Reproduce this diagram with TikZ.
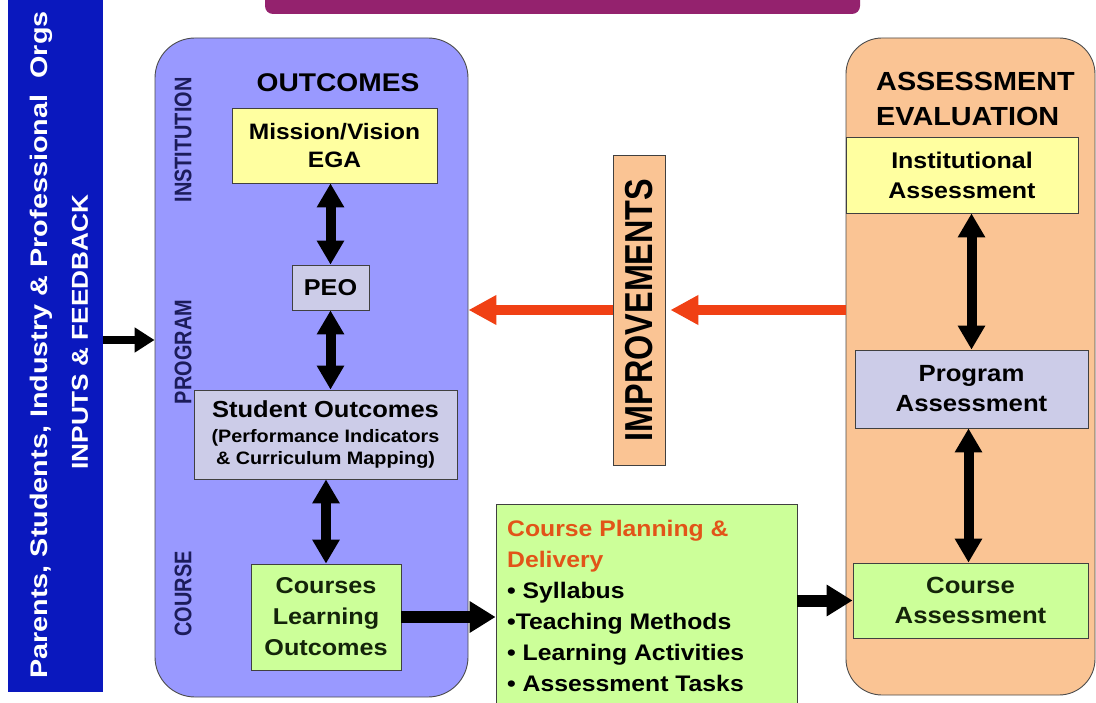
\documentclass[tikz,border=0pt]{standalone}
\usepackage{fontspec}
\setmainfont{Liberation Sans}
\newfontfamily\hf{Liberation Sans}[FakeStretch=1.1]
\newfontfamily\vf{Liberation Sans}[FakeStretch=0.83]
\newfontfamily\sidefa{Liberation Sans}[FakeStretch=1.2]
\newfontfamily\sidefb{Liberation Sans}[FakeStretch=1.14]
\usetikzlibrary{arrows.meta}
\definecolor{bluebar}{RGB}{10,24,190}
\definecolor{outfill}{RGB}{153,153,255}
\definecolor{purp}{RGB}{148,34,110}
\definecolor{yel}{RGB}{255,255,160}
\definecolor{lav}{RGB}{204,204,232}
\definecolor{grn}{RGB}{204,255,153}
\definecolor{peach}{RGB}{250,196,148}
\definecolor{redarr}{RGB}{240,64,20}
\definecolor{orangetxt}{RGB}{226,84,24}
\definecolor{navy}{RGB}{28,28,90}
\definecolor{dkgreen}{RGB}{20,36,10}
\begin{document}
\begin{tikzpicture}[x=1pt,y=-1pt,
  box/.style={draw=black!75, line width=0.8pt, inner sep=0pt, align=center, font=\hf\bfseries},
  big/.style={draw=black!70, line width=0.9pt, inner sep=0pt},
  dbl/.style={{Triangle[width=26pt,length=24pt]}-{Triangle[width=26pt,length=24pt]}, line width=10pt, black},
  blk/.style={-{Triangle[width=30pt,length=26pt]}, line width=12pt, black},
  inarr/.style={-{Triangle[width=24pt,length=20pt]}, line width=8pt, black},
  redarrow/.style={-{Triangle[width=28pt,length=28pt]}, line width=10pt, redarr},
  vlab/.style={rotate=90, font=\vf\bfseries\fontsize{24}{28}\selectfont, text=navy, inner sep=0pt},
]
\fill[white] (0,0) rectangle (1096,703);
\useasboundingbox (0,0) rectangle (1096,703);

% top bar
\node[fill=purp, rounded corners=8pt, minimum width=595pt, minimum height=30pt, inner sep=0pt] (topbar) at (562.5,-1) {};

% left input bar
\node[fill=bluebar, minimum width=95pt, minimum height=712pt, inner sep=0pt] (inputs) at (55.5,336) {};
\node[rotate=90, text=white, inner sep=0pt, font=\sidefa\bfseries\fontsize{24}{28}\selectfont] (inl1) at (41,345) {Parents, Students, Industry \& Professional\ \ Orgs};
\node[rotate=90, text=white, inner sep=0pt, font=\sidefb\bfseries\fontsize{23}{28}\selectfont] (inl2) at (80,332) {INPUTS \& FEEDBACK};

% outcomes panel
\node[big, fill=outfill, rounded corners=40pt, minimum width=313pt, minimum height=659pt] (outc) at (311.5,367.5) {};
\node[inner sep=0pt, font=\hf\bfseries\fontsize{25.6}{30}\selectfont] (outt) at (338,83) {OUTCOMES};
\node[vlab] (instl) at (183,140) {INSTITUTION};
\node[vlab] (progl) at (183,352) {PROGRAM};
\node[vlab] (coursel) at (183,594) {COURSE};

\node[box, fill=yel, minimum width=205pt, minimum height=75pt, font=\hf\bfseries\fontsize{22.3}{28}\selectfont] (mission) at (334.5,145.5) {Mission/Vision\\EGA};
\node[box, fill=lav, minimum width=77pt, minimum height=45pt, font=\hf\bfseries\fontsize{22.9}{26}\selectfont] (peo) at (330.5,287.5) {PEO};
\node[box, fill=lav, minimum width=263pt, minimum height=89pt, font=\hf\bfseries\fontsize{18}{22}\selectfont] (so) at (325.5,434.5) {{\fontsize{23.2}{26}\selectfont Student Outcomes}\\[3pt](Performance Indicators\\\& Curriculum Mapping)};
\node[box, fill=grn, minimum width=150pt, minimum height=106pt, text=dkgreen, font=\hf\bfseries\fontsize{22.9}{31}\selectfont] (clo) at (326,617) {Courses\\Learning\\Outcomes};

% course planning
\node[box, fill=grn, minimum width=301pt, minimum height=204pt] (cp) at (646.5,606) {};
\node[anchor=north west, align=left, inner sep=0pt, font=\hf\bfseries\fontsize{22.5}{31}\selectfont] (cpt) at (507,520) {\textcolor{orangetxt}{Course Planning \&}\\\textcolor{orangetxt}{Delivery}\\• Syllabus\\•Teaching Methods\\• Learning Activities\\• Assessment Tasks};

% assessment panel
\node[big, fill=peach, rounded corners=36pt, minimum width=249pt, minimum height=657pt] (assess) at (970.5,366.5) {};
\node[anchor=west, align=left, inner sep=0pt, font=\hf\bfseries\fontsize{26.2}{35}\selectfont] (asst) at (876,99) {ASSESSMENT\\EVALUATION};
\node[box, fill=yel, minimum width=232pt, minimum height=76pt, font=\hf\bfseries\fontsize{22.7}{30}\selectfont] (ia) at (962,175) {Institutional\\Assessment};
\node[box, fill=lav, minimum width=233pt, minimum height=78pt, font=\hf\bfseries\fontsize{23.4}{30}\selectfont] (pa) at (971.5,389) {Program\\Assessment};
\node[box, fill=grn, minimum width=235pt, minimum height=75pt, text=dkgreen, font=\hf\bfseries\fontsize{23.4}{30}\selectfont] (ca) at (970.5,600.5) {Course\\Assessment};

% improvements
\node[box, fill=peach, rotate=90, minimum width=310pt, minimum height=52pt, font=\vf\bfseries\fontsize{39}{40}\selectfont] (impr) at (639,310) {IMPROVEMENTS};

% connectors
\coordinate (inrow) at (0,340);
\draw[inarr] (inputs.east |- inrow) -- (outc.west |- inrow);
\draw[dbl] (peo.north |- mission.south) -- (peo.north);
\draw[dbl] (peo.south) -- (peo.south |- so.north);
\draw[dbl] (clo.north |- so.south) -- (clo.north);
\draw[blk] (clo.east) -- (clo.east -| cp.west);
\draw[blk] (cp.east |- ca.west) -- (ca.west);
\draw[dbl] (pa.north |- ia.south) -- (pa.north);
\draw[dbl] ([xshift=-3pt]pa.south) -- ([xshift=-3pt]pa.south |- ca.north);
\draw[redarrow, shorten >=5pt] (assess.west |- impr.center) -- (impr.south);
\draw[redarrow] (impr.north) -- (outc.east |- impr.center);
\end{tikzpicture}
\end{document}
